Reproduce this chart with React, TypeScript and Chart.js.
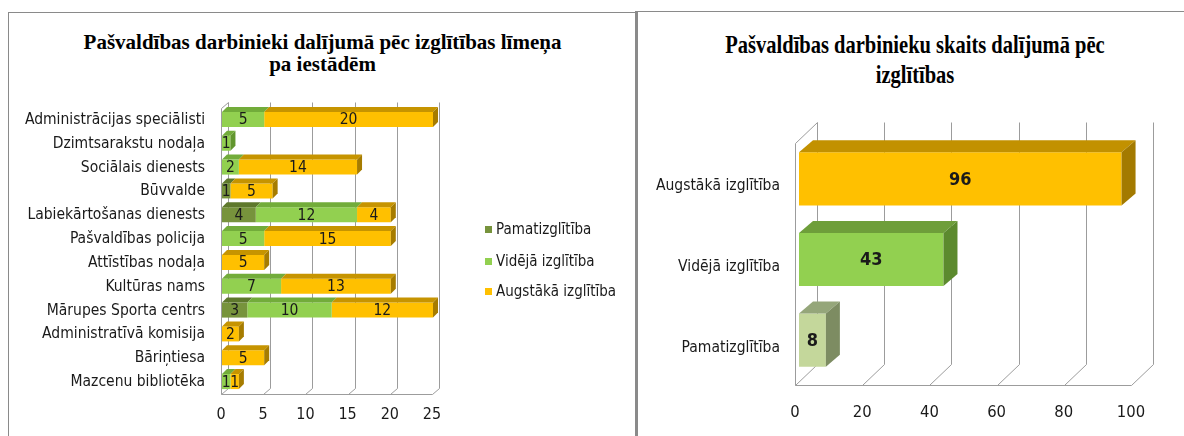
import React, { useEffect, useRef } from "react";
import { Chart, registerables } from "chart.js";

Chart.register(...registerables);

// ---------- Data: left chart (by institution) ----------
const unitLabels = [
  "Administrācijas speciālisti",
  "Dzimtsarakstu nodaļa",
  "Sociālais dienests",
  "Būvvalde",
  "Labiekārtošanas dienests",
  "Pašvaldības policija",
  "Attīstības nodaļa",
  "Kultūras nams",
  "Mārupes Sporta centrs",
  "Administratīvā komisija",
  "Bāriņtiesa",
  "Mazcenu bibliotēka",
];
const pamatizglitiba = [null, null, null, 1, 4, null, null, null, 3, null, null, null];
const videjaIzglitiba = [5, 1, 2, null, 12, 5, null, 7, 10, null, null, 1];
const augstakaIzglitiba = [20, null, 14, 5, 4, 15, 5, 13, 12, 2, 5, 1];
const unitTicks = [0, 5, 10, 15, 20, 25];
const seriesNames = ["Pamatizglītība", "Vidējā izglītība", "Augstākā izglītība"];

// ---------- Data: right chart (totals) ----------
const levelLabels = ["Augstākā izglītība", "Vidējā izglītība", "Pamatizglītība"];
const levelTotals = [96, 43, 8];
const levelTicks = [0, 20, 40, 60, 80, 100];

const leftTitle = ["Pašvaldības darbinieki dalījumā pēc izglītības līmeņa", "pa iestādēm"];
const rightTitle = ["Pašvaldības darbinieku skaits dalījumā pēc", "izglītības"];

const SANS = "'Liberation Sans Narrow', 'Arial Narrow', 'DejaVu Sans Condensed', sans-serif";
const SERIF = "'Liberation Serif', 'Times New Roman', serif";
const TEXT = "#1a1a1a";
const WALL = "#9c9c9c";

const legendColors = ["#77933C", "#92D050", "#FFC000"];

type Cfg = {
  wdx: number; wdy: number; bdx: number; bdy: number;
  sx: number; sy: number; labelFont: string;
};

function threeD(cfg: Cfg) {
  return {
    id: "threeD",
    beforeDatasetsDraw(chart: any) {
      const { ctx, chartArea: a } = chart;
      const xs = chart.scales.x;
      const xEnd = Math.round(xs.getPixelForValue(xs.max)) + 0.5;
      const L = Math.round(a.left) + 0.5;
      const B = Math.round(a.bottom) + 0.5;
      const T = Math.round(a.top) + 0.5;
      ctx.save();
      ctx.strokeStyle = WALL;
      ctx.lineWidth = 1;
      ctx.beginPath();
      for (const t of xs.ticks) {
        const x = Math.round(xs.getPixelForValue(t.value)) + 0.5;
        ctx.moveTo(x + cfg.wdx, T - cfg.wdy);
        ctx.lineTo(x + cfg.wdx, B - cfg.wdy);
        ctx.moveTo(x, B);
        ctx.lineTo(x + cfg.wdx, B - cfg.wdy);
      }
      ctx.moveTo(L, B);
      ctx.lineTo(xEnd, B);
      ctx.moveTo(L, B);
      ctx.lineTo(L, T);
      ctx.lineTo(L + cfg.wdx, T - cfg.wdy);
      ctx.stroke();
      ctx.restore();
      ctx.save();
      ctx.translate(cfg.sx, -cfg.sy);
    },
    afterDatasetsDraw(chart: any) {
      const { ctx } = chart;
      const metas = chart.getSortedVisibleDatasetMetas();
      const n = chart.data.labels.length;
      const lastIdx: number[] = [];
      for (let i = 0; i < n; i++) {
        lastIdx[i] = -1;
        metas.forEach((m: any, k: number) => {
          const v = chart.data.datasets[m.index].data[i];
          if (v != null && v !== 0) lastIdx[i] = k;
        });
      }
      const pick = (c: any, i: number) => (Array.isArray(c) ? c[i] : c);
      const geom = (bar: any) => {
        const p = bar.getProps(["x", "y", "base", "height"], true);
        return {
          l: Math.min(p.x, p.base), r: Math.max(p.x, p.base),
          t: p.y - p.height / 2, b: p.y + p.height / 2, y: p.y,
        };
      };
      metas.forEach((m: any, k: number) => {
        const ds = chart.data.datasets[m.index];
        m.data.forEach((bar: any, i: number) => {
          const v = ds.data[i];
          if (v == null || v === 0) return;
          const g = geom(bar);
          ctx.fillStyle = pick(ds.topColor, i);
          ctx.beginPath();
          ctx.moveTo(g.l, g.t);
          ctx.lineTo(g.r, g.t);
          ctx.lineTo(g.r + cfg.bdx, g.t - cfg.bdy);
          ctx.lineTo(g.l + cfg.bdx, g.t - cfg.bdy);
          ctx.closePath();
          ctx.fill();
          if (lastIdx[i] === k) {
            ctx.fillStyle = pick(ds.sideColor, i);
            ctx.beginPath();
            ctx.moveTo(g.r, g.t);
            ctx.lineTo(g.r + cfg.bdx, g.t - cfg.bdy);
            ctx.lineTo(g.r + cfg.bdx, g.b - cfg.bdy);
            ctx.lineTo(g.r, g.b);
            ctx.closePath();
            ctx.fill();
          }
        });
      });
      ctx.font = cfg.labelFont;
      ctx.fillStyle = TEXT;
      ctx.textAlign = "center";
      ctx.textBaseline = "middle";
      metas.forEach((m: any) => {
        const ds = chart.data.datasets[m.index];
        m.data.forEach((bar: any, i: number) => {
          const v = ds.data[i];
          if (v == null || v === 0) return;
          const g = geom(bar);
          ctx.fillText(String(v), (g.l + g.r) / 2, g.y + 1);
        });
      });
      ctx.restore();
    },
  };
}

function leftConfig(): any {
  return {
    type: "bar",
    data: {
      labels: unitLabels,
      datasets: [
        { label: seriesNames[0], data: pamatizglitiba, backgroundColor: "#77933C", topColor: "#5E782C", sideColor: "#4E6524" },
        { label: seriesNames[1], data: videjaIzglitiba, backgroundColor: "#92D050", topColor: "#72AC3A", sideColor: "#62962F" },
        { label: seriesNames[2], data: augstakaIzglitiba, backgroundColor: "#FFC000", topColor: "#C69400", sideColor: "#A67C00" },
      ],
    },
    options: {
      indexAxis: "y",
      responsive: false,
      animation: false,
      devicePixelRatio: 1,
      layout: { padding: { left: 0, top: 108, right: 205, bottom: 0 } },
      datasets: { bar: { categoryPercentage: 1, barPercentage: 0.63, borderWidth: 0, clip: false } },
      plugins: { legend: { display: false }, title: { display: false }, tooltip: { enabled: false } },
      scales: {
        x: {
          type: "linear", stacked: true, min: 0, max: 25,
          afterBuildTicks: (s: any) => { s.ticks = unitTicks.map((v) => ({ value: v })); },
          ticks: { padding: 11, font: { family: SANS, size: 16 }, color: TEXT },
          grid: { display: false, drawTicks: false },
          border: { display: false },
          afterFit: (s: any) => { s.height = 42; },
        },
        y: {
          stacked: true,
          ticks: { padding: 16, autoSkip: false, font: { family: SANS, size: 15.5 }, color: TEXT },
          grid: { display: false, drawTicks: false },
          border: { display: false },
          afterFit: (s: any) => { s.width = 221; },
        },
      },
    },
    plugins: [threeD({ wdx: 7, wdy: 6, bdx: 5, bdy: 5, sx: 1, sy: 0.5, labelFont: `15.5px ${SANS}` })],
  };
}

function rightConfig(): any {
  return {
    type: "bar",
    data: {
      labels: levelLabels,
      datasets: [
        {
          label: "Darbinieku skaits",
          data: levelTotals,
          backgroundColor: ["#FFC000", "#92D050", "#C4D79B"],
          topColor: ["#C29100", "#6E9E3A", "#95A67A"],
          sideColor: ["#A37A00", "#5C8A2E", "#7D8C62"],
        },
      ],
    },
    options: {
      indexAxis: "y",
      responsive: false,
      animation: false,
      devicePixelRatio: 1,
      layout: { padding: { left: 0, top: 143, right: 53, bottom: 0 } },
      datasets: { bar: { categoryPercentage: 1, barPercentage: 0.66, borderWidth: 0, clip: false } },
      plugins: { legend: { display: false }, title: { display: false }, tooltip: { enabled: false } },
      scales: {
        x: {
          type: "linear", min: 0, max: 100,
          afterBuildTicks: (s: any) => { s.ticks = levelTicks.map((v) => ({ value: v })); },
          ticks: { padding: 18, font: { family: SANS, size: 16.5 }, color: TEXT },
          grid: { display: false, drawTicks: false },
          border: { display: false },
          afterFit: (s: any) => { s.height = 51; },
        },
        y: {
          ticks: { padding: 15, labelOffset: 3, autoSkip: false, font: { family: SANS, size: 15.5 }, color: TEXT },
          grid: { display: false, drawTicks: false },
          border: { display: false },
          afterFit: (s: any) => { s.width = 157; },
        },
      },
    },
    plugins: [threeD({ wdx: 22, wdy: 21, bdx: 14, bdy: 12, sx: 4, sy: 4.5, labelFont: `bold 18px ${SANS}` })],
  };
}

function ChartCanvas(props: { make: () => any; left: number; width: number; height: number }) {
  const ref = useRef<HTMLCanvasElement>(null);
  useEffect(() => {
    const chart = new Chart(ref.current as HTMLCanvasElement, props.make());
    return () => chart.destroy();
  }, []);
  return (
    <canvas
      ref={ref}
      width={props.width}
      height={props.height}
      style={{ position: "absolute", left: props.left, top: 0, width: props.width, height: props.height }}
    />
  );
}

export default function App() {
  return (
    <div style={{ position: "fixed", left: 0, top: 0, width: 1184, height: 436, overflow: "hidden", background: "#fff" }}>
      {/* frames */}
      <div style={{ position: "absolute", left: 8, top: 12, width: 628, height: 1, background: "#8a8a8a" }} />
      <div style={{ position: "absolute", left: 8, top: 12, width: 1, height: 430, background: "#8a8a8a" }} />
      <div style={{ position: "absolute", left: 635, top: 11, width: 3, height: 430, background: "#8a8a8a" }} />
      <div style={{ position: "absolute", left: 638, top: 11, width: 560, height: 1, background: "#8a8a8a" }} />

      {/* titles */}
      <div style={{ position: "absolute", left: 8, top: 31, width: 629, textAlign: "center", fontFamily: SERIF, fontWeight: "bold", fontSize: 21, lineHeight: "22px", color: "#000" }}>
        {leftTitle.map((t, i) => <div key={i}>{t}</div>)}
      </div>
      <div style={{ position: "absolute", left: 638, top: 30, width: 554, textAlign: "center", fontFamily: SERIF, fontWeight: "bold", fontSize: 25, lineHeight: "30px", color: "#000", transform: "scaleX(0.82)", transformOrigin: "50% 0" }}>
        {rightTitle.map((t, i) => <div key={i}>{t}</div>)}
      </div>

      <ChartCanvas make={leftConfig} left={0} width={637} height={436} />
      <ChartCanvas make={rightConfig} left={638} width={546} height={436} />

      {/* legend of the left chart */}
      {seriesNames.map((name, i) => {
        const cy = [229, 261, 291][i];
        return (
          <div key={name}>
            <div style={{ position: "absolute", left: 485, top: cy - 3.5, width: 7, height: 7, background: legendColors[i] }} />
            <div style={{ position: "absolute", left: 496, top: cy - 10, height: 20, lineHeight: "20px", fontFamily: SANS, fontSize: 15, color: TEXT, whiteSpace: "nowrap" }}>
              {name}
            </div>
          </div>
        );
      })}
    </div>
  );
}
